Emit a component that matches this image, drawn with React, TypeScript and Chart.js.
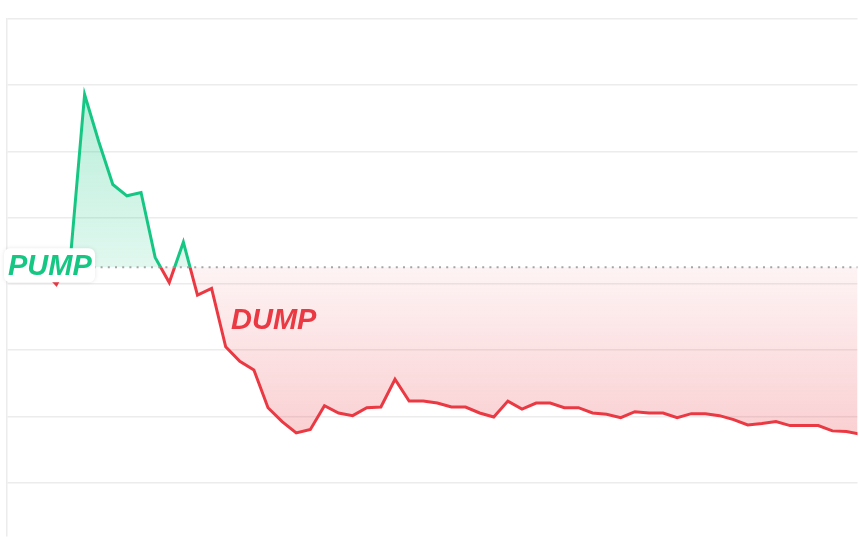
import React, { useEffect, useRef } from "react";
import { Chart, registerables } from "chart.js";

Chart.register(...registerables);

// ---- data ----
const timeIndex: number[] = [
  -1, 0, 1, 2, 3, 4, 5, 6, 7, 8, 9, 10, 11, 12, 13, 14, 15, 16, 17, 18, 19,
  20, 21, 22, 23, 24, 25, 26, 27, 28, 29, 30, 31, 32, 33, 34, 35, 36, 37, 38,
  39, 40, 41, 42, 43, 44, 45, 46, 47, 48, 49, 50, 51, 52, 53, 54, 55, 56, 57,
];
const price: number[] = [
  4.22, 3.99, 4.4, 6.86, 6.15, 5.5, 5.33, 5.38, 4.4, 4.02, 4.63, 3.83, 3.93,
  3.05, 2.83, 2.7, 2.13, 1.92, 1.75, 1.8, 2.16, 2.05, 2.01, 2.13, 2.14, 2.56,
  2.23, 2.23, 2.2, 2.14, 2.14, 2.05, 1.99, 2.23, 2.11, 2.2, 2.2, 2.13, 2.13,
  2.05, 2.03, 1.98, 2.07, 2.05, 2.05, 1.98, 2.04, 2.04, 2.01, 1.95, 1.87, 1.89,
  1.92, 1.86, 1.86, 1.86, 1.78, 1.77, 1.73,
];
const yTicks: number[] = [1, 2, 3, 4, 5, 6, 7, 8];
const BASELINE = 4.25;
const X_MIN = -3.5;
const X_MAX = 56.78;
const Y_MIN = 0.2;
const Y_MAX = 8;
const pumpLabel = "PUMP";
const dumpLabel = "DUMP";

const GREEN = "#16c784";
const RED = "#ea3943";
const GRID = "#ececec";

export default function App() {
  const ref = useRef<HTMLCanvasElement>(null);

  useEffect(() => {
    const canvas = ref.current;
    if (!canvas) return;

    const overlay = {
      id: "pumpDumpOverlay",
      afterDatasetsDraw(chart: any) {
        const { ctx, chartArea, scales } = chart;
        const by = scales.y.getPixelForValue(BASELINE);
        ctx.save();
        // dotted baseline
        ctx.setLineDash([2, 5.2]);
        ctx.lineWidth = 2;
        ctx.strokeStyle = "rgba(150,150,150,0.85)";
        ctx.beginPath();
        ctx.moveTo(chartArea.left, by);
        ctx.lineTo(chartArea.right, by);
        ctx.stroke();
        ctx.setLineDash([]);

        // PUMP label box
        const bx = chartArea.left - 3;
        const byTop = by - 19;
        const bw = 91;
        const bh = 34;
        ctx.shadowColor = "rgba(0,0,0,0.10)";
        ctx.shadowBlur = 4;
        ctx.fillStyle = "#ffffff";
        ctx.beginPath();
        (ctx as any).roundRect(bx, byTop, bw, bh, 6);
        ctx.fill();
        ctx.shadowColor = "transparent";
        ctx.shadowBlur = 0;

        ctx.font = "italic bold 29px 'Liberation Sans', Arial, sans-serif";
        ctx.textBaseline = "alphabetic";
        ctx.textAlign = "left";
        ctx.fillStyle = GREEN;
        ctx.fillText(pumpLabel, chartArea.left + 1, by + 8);

        ctx.fillStyle = RED;
        ctx.fillText(dumpLabel, 231, by + 62);
        ctx.restore();
      },
    };

    const chart = new Chart(canvas, {
      type: "line",
      data: {
        datasets: [
          {
            data: timeIndex.map((t, i) => ({ x: t, y: price[i] })),
            borderColor: RED,
            borderWidth: 3,
            pointRadius: 0,
            tension: 0,
            fill: { target: { value: BASELINE }, above: "rgba(22,199,132,0.2)", below: "rgba(234,57,67,0.1)" },
          } as any,
        ],
      },
      options: {
        animation: false,
        responsive: false,
        events: [],
        layout: { padding: { left: 7, top: 19, right: -3, bottom: 0 } },
        plugins: {
          legend: { display: false },
          tooltip: { enabled: false },
        },
        scales: {
          x: {
            type: "linear",
            display: false,
            min: X_MIN,
            max: X_MAX,
          },
          y: {
            type: "linear",
            min: Y_MIN,
            max: Y_MAX,
            afterBuildTicks: (axis: any) => {
              axis.ticks = yTicks.map((v) => ({ value: v }));
            },
            ticks: { display: false },
            grid: { color: GRID, lineWidth: 1.5, drawTicks: false },
            border: { display: true, color: GRID, width: 1.5 },
          },
        },
      } as any,
      plugins: [overlay],
    });

    // gradients computed from the laid-out scales
    const area = chart.chartArea;
    const yS = chart.scales.y;
    const c = chart.ctx;
    const by = yS.getPixelForValue(BASELINE);
    const topY = yS.getPixelForValue(Math.max(...price));
    const botY = yS.getPixelForValue(Math.min(...price));
    const f = (by - area.top) / (area.bottom - area.top);

    const lineG = c.createLinearGradient(0, area.top, 0, area.bottom);
    lineG.addColorStop(0, GREEN);
    lineG.addColorStop(f, GREEN);
    lineG.addColorStop(f, RED);
    lineG.addColorStop(1, RED);

    const greenG = c.createLinearGradient(0, topY, 0, by);
    greenG.addColorStop(0, "rgba(22,199,132,0.30)");
    greenG.addColorStop(1, "rgba(22,199,132,0.13)");

    const redG = c.createLinearGradient(0, by, 0, botY);
    redG.addColorStop(0, "rgba(234,57,67,0.06)");
    redG.addColorStop(1, "rgba(234,57,67,0.24)");

    const ds: any = chart.data.datasets[0];
    ds.borderColor = lineG;
    ds.fill = { target: { value: BASELINE }, above: greenG, below: redG };
    chart.update();

    return () => chart.destroy();
  }, []);

  return (
    <div style={{ position: "fixed", left: 0, top: 0, width: 859, height: 537, background: "#fff" }}>
      <canvas ref={ref} width={859} height={537} style={{ display: "block", width: 859, height: 537 }} />
    </div>
  );
}
